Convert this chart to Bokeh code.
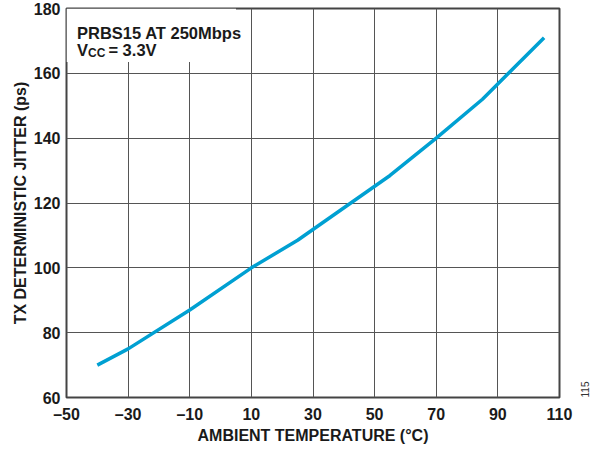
import math
from bokeh.plotting import figure
from bokeh.models import FixedTicker, Label, BoxAnnotation, Range1d, LinearAxis
from bokeh.embed import file_html
from bokeh.resources import INLINE

# Data
temperature_c = [-40, -30, -10, 10, 25, 55, 70, 85, 105]
jitter_ps = [70.0, 75.0, 87.0, 100.0, 108.5, 128.5, 140.0, 152.0, 171.0]

x_ticks = [-50, -30, -10, 10, 30, 50, 70, 90, 110]
y_ticks = [60, 80, 100, 120, 140, 160, 180]

FONT = "Liberation Sans"
TXT = "#1a1a1a"

p = figure(width=596, height=446, output_backend="svg", toolbar_location=None,
           x_range=Range1d(-50, 110), y_range=Range1d(60, 180),
           min_border_left=66, min_border_right=37, min_border_top=8, min_border_bottom=46)

p.background_fill_color = "white"
p.border_fill_color = "white"
p.outline_line_color = "#444444"
p.outline_line_width = 2

for ax in (p.xaxis[0], p.yaxis[0]):
    ax.axis_line_color = None
    ax.major_tick_line_color = None
    ax.minor_tick_line_color = None
    ax.major_tick_out = 0
    ax.major_tick_in = 0
    ax.minor_tick_out = 0
    ax.major_label_text_font = FONT
    ax.major_label_text_font_style = "bold"
    ax.major_label_text_font_size = "16px"
    ax.major_label_text_color = TXT
    ax.axis_label_text_font = FONT
    ax.axis_label_text_font_style = "bold"
    ax.axis_label_text_font_size = "16px"
    ax.axis_label_text_color = TXT

p.xaxis.ticker = FixedTicker(ticks=x_ticks)
p.yaxis.ticker = FixedTicker(ticks=y_ticks)
p.xaxis.major_label_overrides = {t: (("\u2013" + str(-t)) if t < 0 else str(t)) for t in x_ticks}
p.xaxis.major_label_standoff = 8
p.yaxis.major_label_standoff = 6
p.xaxis.axis_label = "AMBIENT TEMPERATURE (°C)"
p.yaxis.axis_label = "TX DETERMINISTIC JITTER (ps)"
p.xaxis.axis_label_standoff = 1
p.yaxis.axis_label_standoff = 2

p.xgrid.ticker = FixedTicker(ticks=x_ticks)
p.ygrid.ticker = FixedTicker(ticks=y_ticks)
for g in (p.xgrid[0], p.ygrid[0]):
    g.grid_line_color = "#555555"
    g.grid_line_width = 1

# figure number on the right edge, read bottom-to-top
fig_axis = LinearAxis(ticker=FixedTicker(ticks=[]), axis_line_color=None,
                      major_tick_line_color=None, minor_tick_line_color=None,
                      major_tick_out=0, minor_tick_out=0,
                      axis_label="115", axis_label_text_font=FONT,
                      axis_label_text_font_size="10px", axis_label_text_font_style="normal",
                      axis_label_text_color="#333333", axis_label_standoff=25)
try:
    fig_axis.axis_label_orientation = math.pi / 2
except Exception:
    pass
try:
    fig_axis.axis_label_align = "start"
except Exception:
    pass
p.add_layout(fig_axis, "right")

# white box behind the annotation text
box = BoxAnnotation(left=-50, right=5, bottom=163.5, top=180,
                    fill_color="white", fill_alpha=1.0, line_color=None, level="glyph")
p.add_layout(box)

p.line(temperature_c, jitter_ps, line_color="#00a0d2", line_width=3.5)

def lab(x, y, text, size="16.5px", **kw):
    l = Label(x=x, y=y, text=text, text_font=FONT, text_font_style="bold",
              text_font_size=size, text_color=TXT, text_baseline="alphabetic", **kw)
    p.add_layout(l)

lab(-46.6, 172.35, "PRBS15 AT 250Mbps")
lab(-46.6, 167.3, "V")
lab(-43.0, 166.4, "CC", size="12px")
lab(-36.4, 167.3, "= 3.3V")

open("out.html", "w").write(file_html(p, INLINE))
